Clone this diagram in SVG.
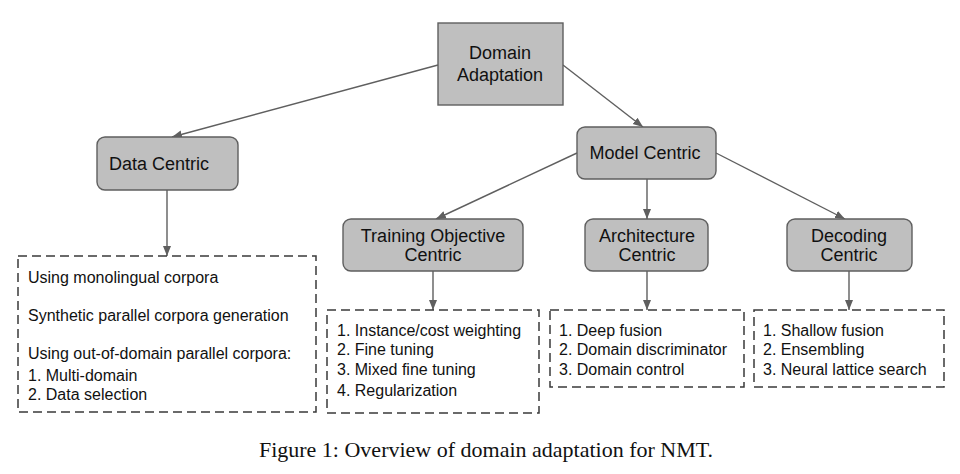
<svg xmlns="http://www.w3.org/2000/svg" width="960" height="474" viewBox="0 0 960 474">
<style>
.box{fill:#bfbfbf;stroke:#5f5f5f;stroke-width:1.4}
.dash{fill:#fff;stroke:#3a3a3a;stroke-width:1.5;stroke-dasharray:9 5}
.t{font-family:"Liberation Sans",Arial,sans-serif;font-size:18px;fill:#111}
.tc{text-anchor:middle}
.l{font-family:"Liberation Sans",Arial,sans-serif;font-size:16px;fill:#111}
.cap{font-family:"Liberation Serif","Times New Roman",serif;font-size:22px;fill:#111;text-anchor:middle}
.c{stroke:#5f5f5f;stroke-width:1.4;fill:none;marker-end:url(#ah)}
</style>
<defs>
<marker id="ah" markerUnits="userSpaceOnUse" markerWidth="10" markerHeight="10" viewBox="0 0 10 10" refX="10" refY="5" orient="auto">
<path d="M0,1 L10,5 L0,9 Z" fill="#5f5f5f"/>
</marker>
</defs>
<rect width="960" height="474" fill="#fff"/>
<g id="connectors">
<line class="c" x1="438" y1="65" x2="172" y2="137"/>
<line class="c" x1="563" y1="65" x2="643" y2="127"/>
<line class="c" x1="577" y1="153" x2="436" y2="219"/>
<line class="c" x1="647" y1="179" x2="647" y2="219"/>
<line class="c" x1="716" y1="153" x2="845" y2="219"/>
<line class="c" x1="167" y1="190" x2="167" y2="256"/>
<line class="c" x1="433" y1="271" x2="433" y2="310"/>
<line class="c" x1="647" y1="271" x2="647" y2="310"/>
<line class="c" x1="849" y1="271" x2="849" y2="310"/>
</g>
<g id="domain-adaptation">
<rect class="box" x="438" y="23" width="125" height="82"/>
<text class="t tc" x="500" y="59">Domain</text>
<text class="t tc" x="500" y="81">Adaptation</text>
</g>
<g id="data-centric">
<rect class="box" x="97" y="137" width="141" height="53" rx="8"/>
<text class="t" x="109" y="170">Data Centric</text>
</g>
<g id="model-centric">
<rect class="box" x="577" y="127" width="139" height="52" rx="8"/>
<text class="t tc" x="645" y="159">Model Centric</text>
</g>
<g id="training-objective-centric">
<rect class="box" x="343" y="219" width="180" height="52" rx="8"/>
<text class="t tc" x="433" y="242">Training Objective</text>
<text class="t tc" x="433" y="261">Centric</text>
</g>
<g id="architecture-centric">
<rect class="box" x="585" y="219" width="123" height="52" rx="8"/>
<text class="t tc" x="647" y="242">Architecture</text>
<text class="t tc" x="647" y="261">Centric</text>
</g>
<g id="decoding-centric">
<rect class="box" x="787" y="219" width="125" height="52" rx="8"/>
<text class="t tc" x="849" y="242">Decoding</text>
<text class="t tc" x="849" y="261">Centric</text>
</g>
<g id="data-list">
<rect class="dash" x="18" y="256" width="298" height="156"/>
<text class="l" x="28" y="283">Using monolingual corpora</text>
<text class="l" x="28" y="321">Synthetic parallel corpora generation</text>
<text class="l" x="28" y="359">Using out-of-domain parallel corpora:</text>
<text class="l" x="28" y="381">1. Multi-domain</text>
<text class="l" x="28" y="400">2. Data selection</text>
</g>
<g id="training-list">
<rect class="dash" x="327" y="310" width="212" height="103"/>
<text class="l" x="337" y="336">1. Instance/cost weighting</text>
<text class="l" x="337" y="355">2. Fine tuning</text>
<text class="l" x="337" y="375">3. Mixed fine tuning</text>
<text class="l" x="337" y="396">4. Regularization</text>
</g>
<g id="architecture-list">
<rect class="dash" x="550" y="310" width="194" height="77"/>
<text class="l" x="559" y="336">1. Deep fusion</text>
<text class="l" x="559" y="355">2. Domain discriminator</text>
<text class="l" x="559" y="375">3. Domain control</text>
</g>
<g id="decoding-list">
<rect class="dash" x="754" y="310" width="190" height="77"/>
<text class="l" x="763" y="336">1. Shallow fusion</text>
<text class="l" x="763" y="355">2. Ensembling</text>
<text class="l" x="763" y="375">3. Neural lattice search</text>
</g>
<text class="cap" x="486" y="457">Figure 1: Overview of domain adaptation for NMT.</text>
</svg>
